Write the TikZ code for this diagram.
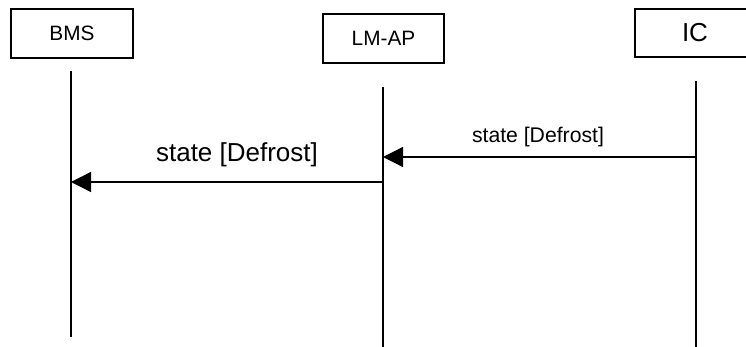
\documentclass[tikz,border=0pt]{standalone}
\usepackage{fontspec}
\setmainfont{Liberation Sans}
\usetikzlibrary{arrows.meta,positioning}
\tikzset{
  actor/.style    = {draw, line width=0.65pt, inner sep=0pt, font=\fontsize{10.4}{12}\selectfont},
  lifeline/.style = {line width=0.65pt},
  msg/.style      = {-{Triangle[length=10pt,width=10pt]}, line width=0.65pt},
  msglab/.style   = {inner sep=0pt},
}
\begin{document}
\begin{tikzpicture}[x=0.5pt, y=-0.5pt]
  \clip (0,0) rectangle (746,347);
  \useasboundingbox (0,0) rectangle (746,347);
  % actors
  \node[actor, minimum width=61pt, minimum height=24.5pt] (bms) at (72, 33.5) {BMS};
  \node[actor, minimum width=60.5pt, minimum height=24.5pt] (lmap) at (383.5, 38.5) {LM-AP};
  \node[actor, minimum width=60pt, minimum height=24pt,
        font=\fontsize{13}{15}\selectfont] (ic) at (695, 33) {IC};
  % lifelines
  \coordinate (bmsTop) at (71, 71);   \coordinate (bmsBot) at (71, 337);
  \coordinate (lmapTop) at (383, 87); \coordinate (lmapBot) at (383, 347);
  \coordinate (icTop) at (696, 81);   \coordinate (icBot) at (696, 347);
  \draw[lifeline] (bmsTop) -- (bmsBot);
  \draw[lifeline] (lmapTop) -- (lmapBot);
  \draw[lifeline] (icTop) -- (icBot);
  % messages
  \coordinate (m1s) at (696, 157); \coordinate (m1e) at (383, 157);
  \coordinate (m2s) at (383, 182); \coordinate (m2e) at (71, 182);
  \draw[msg] (m1s) -- (m1e);
  \draw[msg] (m2s) -- (m2e);
  \node[msglab, font=\fontsize{10.6}{12}\selectfont] (l1) at (538, 137) {state [Defrost]};
  \node[msglab, font=\fontsize{13}{15}\selectfont] (l2) at (237, 155) {state [Defrost]};
\end{tikzpicture}
\end{document}
